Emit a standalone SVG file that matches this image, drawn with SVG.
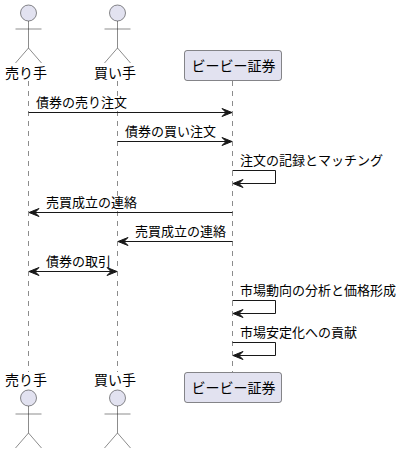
<svg xmlns="http://www.w3.org/2000/svg" width="402" height="453" viewBox="0 0 402 453">
<defs>
<style>
text{font-family:"Noto Sans CJK JP","Noto Sans CJK SC",sans-serif;font-size:13px;fill:#000}
text.big{font-size:14px}
.life{stroke:#181818;stroke-width:.5;stroke-dasharray:5 5;fill:none}
.msg{stroke:#181818;stroke-width:1;fill:none}
.head{fill:#181818;stroke:#181818;stroke-width:1}
.act{fill:#E2E2F0;stroke:#181818;stroke-width:.5}
.limb{fill:none;stroke:#181818;stroke-width:.5}
</style>
<g id="stick"><circle class="act" cx="0" cy="0" r="8"/><path class="limb" d="M0 8V35M-13 16H13M0 35L-13 50M0 35L13 50"/></g>
<marker id="end" markerWidth="10" markerHeight="10" refX="10" refY="4" orient="auto" markerUnits="userSpaceOnUse" overflow="visible"><path class="head" d="M0 0L10 4L0 8L4 4Z"/></marker>
<marker id="start" markerWidth="10" markerHeight="10" refX="0" refY="4" orient="auto" markerUnits="userSpaceOnUse" overflow="visible"><path class="head" d="M10 0L0 4L10 8L6 4Z"/></marker>
</defs>
<rect width="402" height="453" fill="#fff"/>
<g id="lifelines">
<path class="life" d="M28.500 81V372"/><path class="life" d="M117.500 81V372"/><path class="life" d="M232.500 81V372"/>
</g>
<g id="connectors">
<path class="msg" marker-end="url(#end)" d="M28.500 112.500H232"/>
<path class="msg" marker-end="url(#end)" d="M117.500 141.500H232"/>
<path class="msg" marker-end="url(#end)" d="M232.500 170.500H275.500V183.500H233"/>
<path class="msg" marker-end="url(#end)" d="M232.500 212.500H29"/>
<path class="msg" marker-end="url(#end)" d="M232.500 241.500H118"/>
<path class="msg" marker-start="url(#start)" marker-end="url(#end)" d="M29 271.500H117"/>
<path class="msg" marker-end="url(#end)" d="M232.500 300.500H275.500V313.500H233"/>
<path class="msg" marker-end="url(#end)" d="M232.500 342.500H275.500V355.500H233"/>
</g>
<g id="labels">
<text x="36" y="107">債券の売り注文</text>
<text x="125" y="136">債券の買い注文</text>
<text x="240" y="165">注文の記録とマッチング</text>
<text x="46" y="207">売買成立の連絡</text>
<text x="135" y="236">売買成立の連絡</text>
<text x="46" y="266">債券の取引</text>
<text x="240" y="295">市場動向の分析と価格形成</text>
<text x="240" y="337">市場安定化への貢献</text>
</g>
<g id="seller-top"><use href="#stick" x="28.500" y="13"/><text class="big" x="5" y="78">売り手</text></g>
<g id="buyer-top"><use href="#stick" x="117.500" y="13"/><text class="big" x="94" y="78">買い手</text></g>
<g id="bb-top"><rect class="act" x="184.500" y="50.500" width="97" height="30" rx="2.500"/><text class="big" x="191.500" y="71">ビービー証券</text></g>
<g id="seller-bottom"><text class="big" x="5" y="385">売り手</text><use href="#stick" x="28.500" y="398"/></g>
<g id="buyer-bottom"><text class="big" x="94" y="385">買い手</text><use href="#stick" x="117.500" y="398"/></g>
<g id="bb-bottom"><rect class="act" x="184.500" y="372.500" width="97" height="30" rx="2.500"/><text class="big" x="191.500" y="393">ビービー証券</text></g>
</svg>
